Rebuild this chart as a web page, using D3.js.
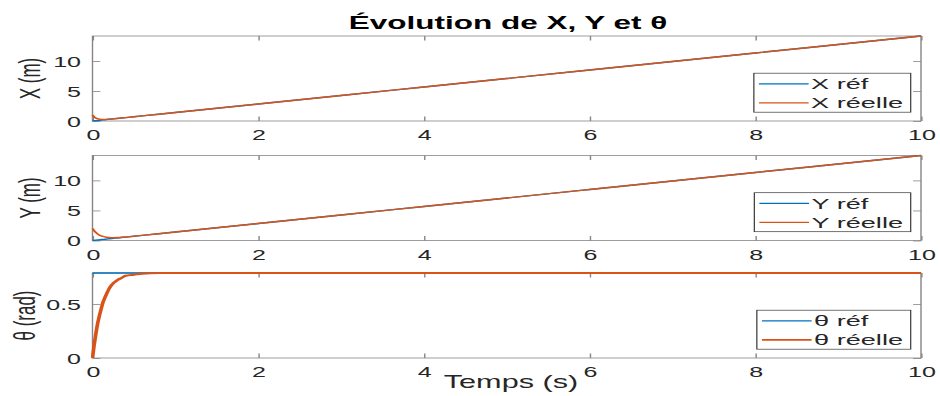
<!DOCTYPE html>
<html>
<head>
<meta charset="utf-8">
<script src="https://cdn.jsdelivr.net/npm/d3@7"></script>
<style>
  html, body { margin: 0; padding: 0; background: #fff; overflow: hidden; }
  svg { display: block; }
</style>
</head>
<body>
<script>
// Sample times (s)
const time = [0, 0.02, 0.04, 0.06, 0.08, 0.1, 0.125, 0.15, 0.175, 0.2, 0.25, 0.3, 0.35, 0.4,
              0.5, 0.6, 0.8, 1, 2, 3, 4, 5, 6, 7, 8, 9, 10];

// X position (m)
const xRef  = [0, 0.028, 0.057, 0.085, 0.113, 0.141, 0.177, 0.212, 0.247, 0.283, 0.354, 0.424, 0.495, 0.566,
               0.707, 0.849, 1.131, 1.414, 2.828, 4.243, 5.657, 7.071, 8.485, 9.899, 11.314, 12.728, 14.142];
const xReal = [1.0, 0.70, 0.51, 0.39, 0.31, 0.28, 0.26, 0.26, 0.28, 0.30, 0.36, 0.43, 0.50, 0.57,
               0.71, 0.85, 1.131, 1.414, 2.828, 4.243, 5.657, 7.071, 8.485, 9.899, 11.314, 12.728, 14.142];

// Y position (m)
const yRef  = [0, 0.028, 0.057, 0.085, 0.113, 0.141, 0.177, 0.212, 0.247, 0.283, 0.354, 0.424, 0.495, 0.566,
               0.707, 0.849, 1.131, 1.414, 2.828, 4.243, 5.657, 7.071, 8.485, 9.899, 11.314, 12.728, 14.142];
const yReal = [2.0, 1.63, 1.34, 1.11, 0.93, 0.80, 0.68, 0.59, 0.54, 0.50, 0.47, 0.49, 0.53, 0.59,
               0.72, 0.85, 1.131, 1.414, 2.828, 4.243, 5.657, 7.071, 8.485, 9.899, 11.314, 12.728, 14.142];

// Heading θ (rad)
const thetaRef  = [0.785, 0.785, 0.785, 0.785, 0.785, 0.785, 0.785, 0.785, 0.785, 0.785, 0.785, 0.785, 0.785, 0.785,
                   0.785, 0.785, 0.785, 0.785, 0.785, 0.785, 0.785, 0.785, 0.785, 0.785, 0.785, 0.785, 0.785];
const thetaReal = [0, 0.12, 0.22, 0.31, 0.38, 0.44, 0.51, 0.56, 0.60, 0.64, 0.69, 0.72, 0.74, 0.76,
                   0.77, 0.78, 0.785, 0.785, 0.785, 0.785, 0.785, 0.785, 0.785, 0.785, 0.785, 0.785, 0.785];

const xTicks = [0, 2, 4, 6, 8, 10];
const xTickLabels = ["0", "2", "4", "6", "8", "10"];

const panels = [
  { ref: xRef, real: xReal, yMax: 14.142, yTicks: [0, 5, 10], yTickLabels: ["0", "5", "10"],
    yLabel: "X (m)", names: ["X réf", "X réelle"], realWidth: 1.4, top: 36, labelX: 31 },
  { ref: yRef, real: yReal, yMax: 14.142, yTicks: [0, 5, 10], yTickLabels: ["0", "5", "10"],
    yLabel: "Y (m)", names: ["Y réf", "Y réelle"], realWidth: 1.4, top: 155.5, labelX: 31 },
  { ref: thetaRef, real: thetaReal, yMax: 0.7854, yTicks: [0, 0.5], yTickLabels: ["0", "0.5"],
    yLabel: "θ (rad)", names: ["θ réf", "θ réelle"], realWidth: 2.1, top: 273, labelX: 26 }
];

const W = 940, H = 396;
const S = 1.75;                 // horizontal stretch of the figure
const VW = W / S;               // internal drawing width
const sx = px => px / S;

const blue = "#0072BD", orange = "#D95319";
const boxColor = "#858585", textColor = "#262626";
const font = "'Liberation Sans', Arial, Helvetica, sans-serif";
const plotLeft = 92.5, plotRight = 921, plotH = 85;
const tickLen = 4.5;

const svg = d3.select("body").append("svg")
  .attr("width", W).attr("height", H)
  .attr("viewBox", `0 0 ${VW} ${H}`)
  .attr("preserveAspectRatio", "none")
  .style("font-family", font);

svg.append("rect").attr("width", VW).attr("height", H).attr("fill", "#fff");

const x = d3.scaleLinear().domain([0, 10]).range([sx(plotLeft), sx(plotRight)]);

// Title
svg.append("text")
  .attr("x", sx(508)).attr("y", 29)
  .attr("text-anchor", "middle")
  .attr("font-size", 18).attr("font-weight", "bold")
  .attr("fill", "#000")
  .text("Évolution de X, Y et θ");

panels.forEach((p, i) => {
  const top = p.top, bottom = top + plotH;
  const y = d3.scaleLinear().domain([0, p.yMax]).range([bottom, top]);
  const g = svg.append("g");

  // Axes box
  g.append("rect")
    .attr("x", x(0)).attr("y", top)
    .attr("width", x(10) - x(0)).attr("height", plotH)
    .attr("fill", "#fff").attr("stroke", boxColor).attr("stroke-width", 0.8);

  // Inward ticks on all four sides
  const styleAxis = sel => {
    sel.select(".domain").remove();
    sel.selectAll(".tick line").attr("stroke", boxColor).attr("stroke-width", 0.8);
  };
  g.append("g").attr("transform", `translate(0,${bottom})`)
    .call(d3.axisBottom(x).tickValues(xTicks).tickFormat((d, k) => xTickLabels[k])
      .tickSizeInner(-tickLen).tickSizeOuter(0))
    .call(styleAxis)
    .call(a => a.selectAll(".tick text")
      .attr("y", 19.5).attr("dy", 0)
      .attr("font-size", 14.3).attr("font-family", font).attr("fill", textColor));
  g.append("g").attr("transform", `translate(0,${top})`)
    .call(d3.axisTop(x).tickValues(xTicks).tickFormat("").tickSizeInner(-tickLen).tickSizeOuter(0))
    .call(styleAxis);
  g.append("g").attr("transform", `translate(${x(0)},0)`)
    .call(d3.axisLeft(y).tickValues(p.yTicks).tickFormat((d, k) => p.yTickLabels[k])
      .tickSizeInner(-tickLen).tickSizeOuter(0))
    .call(styleAxis)
    .call(a => a.selectAll(".tick text")
      .attr("x", sx(81) - x(0)).attr("dy", "0.36em")
      .attr("font-size", 14.3).attr("font-family", font).attr("fill", textColor));
  g.append("g").attr("transform", `translate(${x(10)},0)`)
    .call(d3.axisRight(y).tickValues(p.yTicks).tickFormat("").tickSizeInner(-tickLen).tickSizeOuter(0))
    .call(styleAxis);

  // Y axis label
  g.append("text")
    .attr("transform", `translate(${sx(p.labelX)},${top + plotH / 2}) rotate(-90)`)
    .attr("text-anchor", "middle").attr("dy", "0.3em")
    .attr("font-size", 17).attr("fill", textColor)
    .text(p.yLabel);

  // Series
  const clipId = "clip" + i;
  svg.append("clipPath").attr("id", clipId)
    .append("rect").attr("x", x(0) - 1).attr("y", top - 1.2)
    .attr("width", x(10) - x(0) + 2).attr("height", plotH + 2.4);

  const line = vals => d3.line()
    .x((d, k) => x(time[k]))
    .y(d => y(d))
    .curve(d3.curveMonotoneX)(vals);

  const lines = g.append("g").attr("clip-path", `url(#${clipId})`);
  lines.append("path").attr("d", line(p.ref))
    .attr("fill", "none").attr("stroke", blue).attr("stroke-width", 1.4);
  lines.append("path").attr("d", line(p.real))
    .attr("fill", "none").attr("stroke", orange).attr("stroke-width", p.realWidth)
    .attr("stroke-linejoin", "round");

  // Legend (lower right corner)
  const rowH = 19, padL = 2.9, sampleW = 28.4, gap = 1.4, padR = 4.4;
  const legBottom = bottom - 8.8;
  const legTop = legBottom - 2 * rowH - 1;
  const leg = g.append("g");
  const box = leg.append("rect");
  const texts = p.names.map((name, k) => leg.append("text")
    .attr("font-size", 15.5).attr("fill", textColor)
    .attr("y", legTop + rowH * (k + 0.5) + 1.2).attr("dy", "0.35em")
    .text(name));
  const textW = d3.max(texts, t => t.node().getComputedTextLength());
  const legW = padL + sampleW + gap + textW + padR;
  const legRight = sx(910.7);
  const legLeft = legRight - legW;
  box.attr("x", legLeft).attr("y", legTop).attr("width", legW).attr("height", legBottom - legTop)
    .attr("fill", "#fff").attr("stroke", "#3a3a3a").attr("stroke-width", 0.7);
  texts.forEach(t => t.attr("x", legLeft + padL + sampleW + gap));
  [blue, orange].forEach((c, k) => {
    const yy = legTop + rowH * (k + 0.5) + 1.2;
    leg.append("line")
      .attr("x1", legLeft + padL).attr("x2", legLeft + padL + sampleW)
      .attr("y1", yy).attr("y2", yy)
      .attr("stroke", c).attr("stroke-width", k === 0 ? 1.4 : Math.min(p.realWidth, 1.8));
  });
});

// X axis label
svg.append("text")
  .attr("x", sx(511)).attr("y", 388)
  .attr("text-anchor", "middle")
  .attr("font-size", 17.5).attr("fill", textColor)
  .text("Temps (s)");
</script>
</body>
</html>
